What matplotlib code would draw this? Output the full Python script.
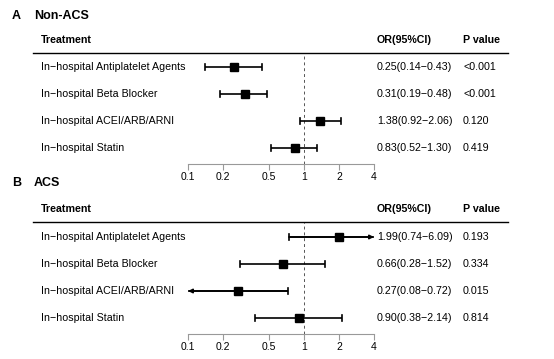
import matplotlib.pyplot as plt
from matplotlib.lines import Line2D
from matplotlib.transforms import blended_transform_factory

plt.rcParams['font.family'] = ['Liberation Sans', 'DejaVu Sans']

treatments = ['In\u2212hospital Antiplatelet Agents', 'In\u2212hospital Beta Blocker',
              'In\u2212hospital ACEI/ARB/ARNI', 'In\u2212hospital Statin']

# Non-ACS
a_or = [0.25, 0.31, 1.38, 0.83]
a_lo = [0.14, 0.19, 0.92, 0.52]
a_hi = [0.43, 0.48, 2.06, 1.30]
a_p = ['<0.001', '<0.001', '0.120', '0.419']

# ACS
b_or = [1.99, 0.66, 0.27, 0.90]
b_lo = [0.74, 0.28, 0.08, 0.38]
b_hi = [6.09, 1.52, 0.72, 2.14]
b_p = ['0.193', '0.334', '0.015', '0.814']

ticks = [0.1, 0.2, 0.5, 1, 2, 4]
tick_labels = ['0.1', '0.2', '0.5', '1', '2', '4']
xmin, xmax = 0.1, 4

W, H = 554, 359
fig = plt.figure(figsize=(W / 100, H / 100), dpi=100)


def fx(px):
    return px / W


def fy(py):
    return 1 - py / H


def panel(letter, title, top, head_y, head_line, row0, orv, lo, hi, pv):
    step = 27
    axis_y = row0 + 3 * step + 16
    ax = fig.add_axes([fx(188), fy(axis_y), fx(374) - fx(188), fy(head_line) - fy(axis_y)])
    ax.set_xscale('log')
    ax.set_xlim(xmin, xmax)
    ax.set_ylim((axis_y - row0) / step, (head_line - row0) / step)
    for s in ['top', 'right', 'left']:
        ax.spines[s].set_visible(False)
    ax.spines['bottom'].set_color('#999999')
    ax.spines['bottom'].set_linewidth(0.8)
    ax.set_yticks([])
    ax.set_xticks(ticks)
    ax.set_xticklabels(tick_labels, fontsize=7.5)
    ax.xaxis.set_minor_locator(plt.NullLocator())
    ax.tick_params(axis='x', length=4, width=0.8, color='#999999', pad=2)
    ax.axvline(1, color='#555555', lw=0.7, ls=(0, (3, 3)))

    for i in range(len(orv)):
        l = max(lo[i], xmin)
        h = min(hi[i], xmax)
        ax.plot([l, h], [i, i], color='black', lw=1.2, solid_capstyle='butt', clip_on=False)
        if lo[i] < xmin:
            ax.annotate('', xy=(xmin, i), xytext=(h, i),
                        arrowprops=dict(arrowstyle='-|>', lw=1.2, color='black',
                                        mutation_scale=6, shrinkA=0, shrinkB=0))
        else:
            ax.plot([l, l], [i - 0.1, i + 0.1], color='black', lw=1.2)
        if hi[i] > xmax:
            ax.annotate('', xy=(xmax, i), xytext=(l, i),
                        arrowprops=dict(arrowstyle='-|>', lw=1.2, color='black',
                                        mutation_scale=6, shrinkA=0, shrinkB=0))
        else:
            ax.plot([h, h], [i - 0.1, i + 0.1], color='black', lw=1.2)
        ax.plot(orv[i], i, marker='s', color='black', markersize=5.3, clip_on=False)

    tr = blended_transform_factory(fig.transFigure, ax.transData)
    for i in range(len(orv)):
        ax.text(fx(41), i, treatments[i], transform=tr, fontsize=7.7, va='center')
        ax.text(fx(377), i, '%.2f(%.2f\u2212%.2f)' % (orv[i], lo[i], hi[i]),
                transform=tr, fontsize=7.7, va='center')
        ax.text(fx(463), i, pv[i], transform=tr, fontsize=7.7, va='center')

    fig.text(fx(12), fy(top), letter, fontsize=9, fontweight='bold', va='center')
    fig.text(fx(34), fy(top), title, fontsize=9, fontweight='bold', va='center')
    fig.text(fx(41), fy(head_y), 'Treatment', fontsize=7.7, fontweight='bold', va='center')
    fig.text(fx(377), fy(head_y), 'OR(95%CI)', fontsize=7.7, fontweight='bold', va='center')
    fig.text(fx(463), fy(head_y), 'P value', fontsize=7.7, fontweight='bold', va='center')
    fig.add_artist(Line2D([fx(33), fx(508)], [fy(head_line), fy(head_line)],
                          transform=fig.transFigure, color='black', lw=1.0))


panel('A', 'Non-ACS', 16, 40, 53, 67, a_or, a_lo, a_hi, a_p)
panel('B', 'ACS', 183, 209, 222, 237, b_or, b_lo, b_hi, b_p)

fig.savefig('out.png', dpi=100)
